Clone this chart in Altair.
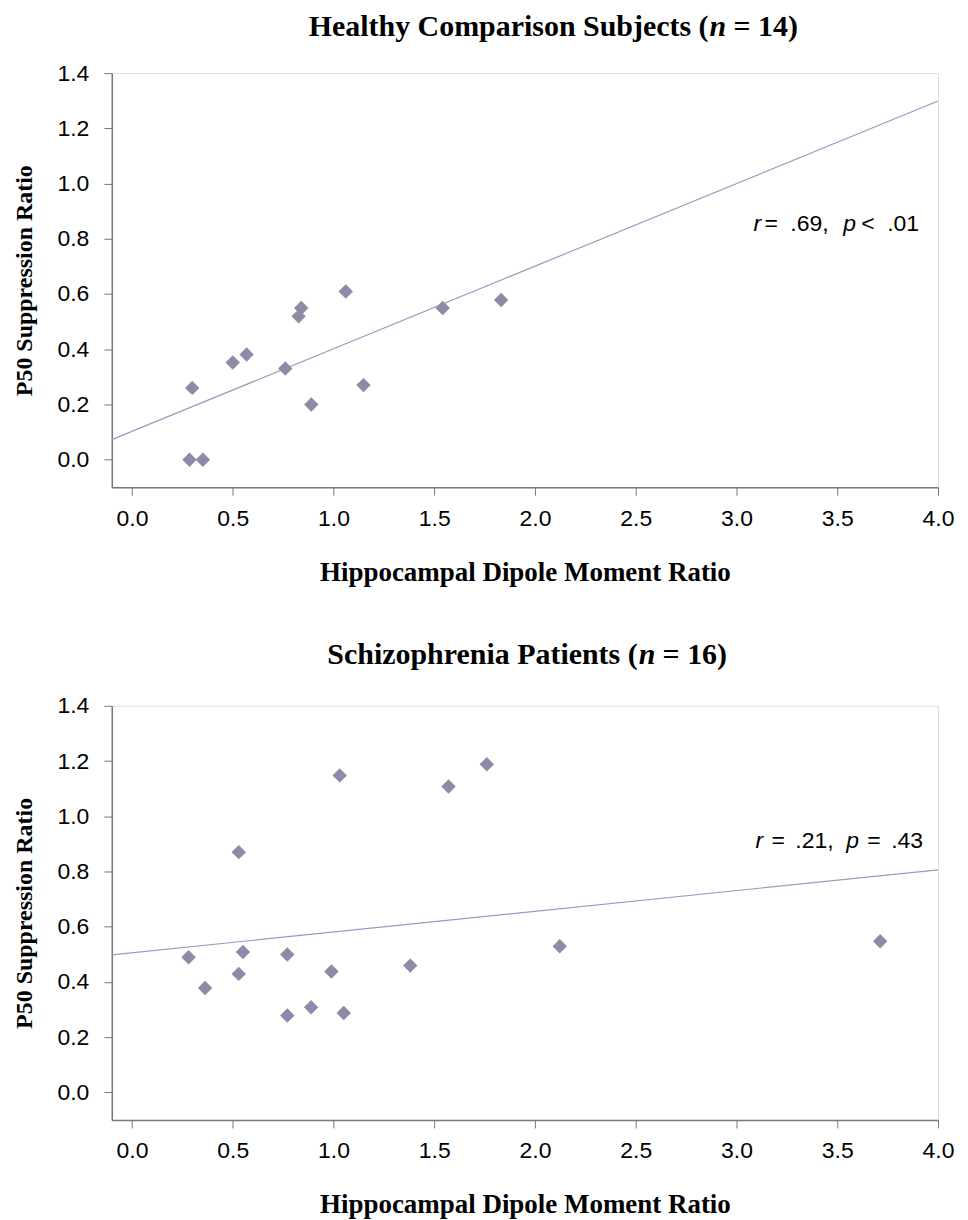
import altair as alt
import pandas as pd

# Healthy comparison subjects
hc_x = [0.286, 0.352, 0.299, 0.50, 0.569, 0.761, 0.827, 0.840, 0.890, 1.061, 1.149, 1.542, 1.832]
hc_y = [0.00, 0.00, 0.26, 0.352, 0.381, 0.330, 0.519, 0.549, 0.200, 0.609, 0.270, 0.549, 0.578]

# Schizophrenia patients
sz_x = [0.281, 0.363, 0.530, 0.530, 0.551, 0.771, 0.771, 0.889, 0.990, 1.031, 1.051, 1.381, 1.571, 1.761, 2.123, 3.713]
sz_y = [0.489, 0.378, 0.870, 0.429, 0.508, 0.499, 0.278, 0.308, 0.438, 1.148, 0.287, 0.459, 1.108, 1.188, 0.529, 0.547]

x_ticks = [0.0, 0.5, 1.0, 1.5, 2.0, 2.5, 3.0, 3.5, 4.0]
y_ticks = [0.0, 0.2, 0.4, 0.6, 0.8, 1.0, 1.2, 1.4]

x_title = "Hippocampal Dipole Moment Ratio"
y_title = "P50 Suppression Ratio"

# title pieces: (before italic, italic, after)
hc_title = ["Healthy Comparison Subjects (", "n", "= 14)"]
sz_title = ["Schizophrenia Patients (", "n", "= 16)"]

# annotation pieces (text, italic)
hc_note = [("r", True), ("=", False), (".69,", False), ("p", True), ("<", False), (".01", False)]
sz_note = [("r", True), ("=", False), (".21,", False), ("p", True), ("=", False), (".43", False)]

# layout (pixels, relative to plot area)
W, H = 828, 415
hc_note_px = [643, 654, 680, 733, 751, 777]
sz_note_px = [645, 661, 685, 736, 757, 781]
hc_note_y = 158
sz_note_y = 142
hc_title_x = 598
sz_title_x = 527
hc_title_y = -37
sz_title_y = -42
TITLE_FS = 30

PT_COLOR = "#8c8ca8"
LINE_COLOR = "#9a9ac0"
SANS = "Liberation Sans"
SERIF = "Liberation Serif"


def panel(xs, ys, title, note, note_px, note_y, title_x, title_y):
    df = pd.DataFrame({"x": xs, "y": ys})
    base = alt.Chart(df)
    xenc = alt.X(
        "x:Q",
        scale=alt.Scale(domain=[-0.1, 4.0], nice=False, zero=False),
        axis=alt.Axis(
            values=x_ticks, format=".1f", title=x_title, grid=False,
            labelFont=SANS, labelFontSize=23, labelColor="black", labelPadding=12,
            tickSize=8, tickColor="#777777", domainColor="#777777", domainWidth=1.5,
            titleFont=SERIF, titleFontSize=27, titleFontWeight="bold", titleColor="black",
            titlePadding=29, labelFlush=False,
        ),
    )
    yenc = alt.Y(
        "y:Q",
        scale=alt.Scale(domain=[-0.1, 1.4], nice=False, zero=False),
        axis=alt.Axis(
            values=y_ticks, format=".1f", title=y_title, grid=False,
            labelFont=SANS, labelFontSize=23, labelColor="black", labelPadding=15,
            tickSize=8, tickColor="#777777", domainColor="#777777", domainWidth=1.5,
            titleFont=SERIF, titleFontSize=24, titleFontWeight="bold", titleColor="black",
            titlePadding=20, labelFlush=False,
        ),
    )
    reg = base.transform_regression("x", "y", extent=[-0.1, 4.0]).mark_line(
        color=LINE_COLOR, strokeWidth=1.2, clip=True
    ).encode(x="x:Q", y="y:Q")
    pts = base.mark_point(
        shape="diamond", filled=True, size=210, color=PT_COLOR, opacity=1
    ).encode(x=xenc, y=yenc)

    ndf = pd.DataFrame({
        "t": [n[0] for n in note],
        "it": [n[1] for n in note],
        "px": note_px,
    })
    nb = alt.Chart(ndf)
    note_it = nb.transform_filter("datum.it").mark_text(
        font=SANS, fontSize=23, fontStyle="italic", align="left", baseline="alphabetic", color="black"
    ).encode(x=alt.X("px:Q", scale=None), y=alt.value(note_y), text="t:N")
    note_rm = nb.transform_filter("!datum.it").mark_text(
        font=SANS, fontSize=23, align="left", baseline="alphabetic", color="black"
    ).encode(x=alt.X("px:Q", scale=None), y=alt.value(note_y), text="t:N")

    tdf = pd.DataFrame({"t": title, "k": [0, 1, 2]})
    tb = alt.Chart(tdf)
    t1 = tb.transform_filter("datum.k == 0").mark_text(
        font=SERIF, fontSize=TITLE_FS, fontWeight="bold", align="right", baseline="alphabetic", color="black"
    ).encode(x=alt.value(title_x), y=alt.value(title_y), text="t:N")
    t2 = tb.transform_filter("datum.k == 1").mark_text(
        font=SERIF, fontSize=TITLE_FS, fontWeight="bold", fontStyle="italic", align="left",
        baseline="alphabetic", color="black"
    ).encode(x=alt.value(title_x + 1), y=alt.value(title_y), text="t:N")
    t3 = tb.transform_filter("datum.k == 2").mark_text(
        font=SERIF, fontSize=TITLE_FS, fontWeight="bold", align="left", baseline="alphabetic", color="black"
    ).encode(x=alt.value(title_x + 25), y=alt.value(title_y), text="t:N")

    return alt.layer(reg, pts, note_it, note_rm, t1, t2, t3).properties(width=W, height=H)


top = panel(hc_x, hc_y, hc_title, hc_note, hc_note_px, hc_note_y, hc_title_x, hc_title_y)
bot = panel(sz_x, sz_y, sz_title, sz_note, sz_note_px, sz_note_y, sz_title_x, sz_title_y)

chart = (
    alt.vconcat(top, bot, spacing=53)
    .properties(padding={"left": 4, "top": 2, "right": 5, "bottom": 5})
    .configure_view(stroke=None)
    .configure(background="white")
)

chart.save("out.html", embed_options={"renderer": "svg", "actions": False})
